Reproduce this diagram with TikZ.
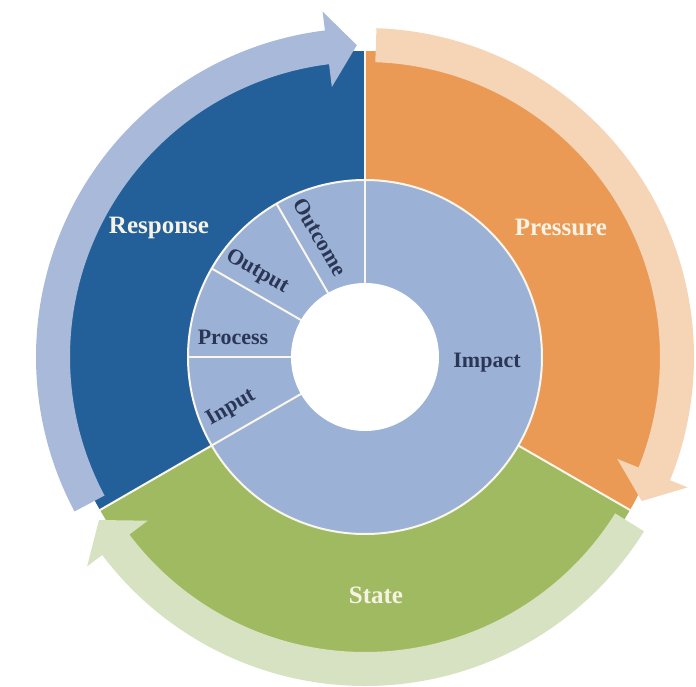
\documentclass[tikz,border=0pt]{standalone}
\usepackage{fontspec}
\setmainfont{Liberation Serif}

\definecolor{respblue}{HTML}{23609A}
\definecolor{presorange}{HTML}{EB9A56}
\definecolor{stategreen}{HTML}{A0BA62}
\definecolor{ringblue}{HTML}{9BB2D6}
\definecolor{bandblue}{HTML}{A9B9DA}
\definecolor{bandorange}{HTML}{F6D5B6}
\definecolor{bandgreen}{HTML}{D7E2C2}
\definecolor{labelcream}{HTML}{F6F3E4}
\definecolor{labelnavy}{HTML}{2B3656}
\definecolor{divider}{HTML}{FBF6EA}

\tikzset{
  outerlabel/.style={text=labelcream, font=\fontsize{25}{28}\selectfont\bfseries},
  innerlabel/.style={text=labelnavy, font=\fontsize{22}{25}\selectfont\bfseries},
  cut/.style={divider, line width=2pt},
}

\begin{document}
\begin{tikzpicture}[x=1pt, y=1pt]
  \useasboundingbox (-365,-329) rectangle (331,357);
  \coordinate (c) at (0,0);

  % three big sectors
  \foreach \a/\b/\col in {90/210/respblue, -30/90/presorange, -150/-30/stategreen} {
    \fill[\col] (c) -- (\a:306) arc[start angle=\a, end angle=\b, radius=306] -- cycle;
  }
  \foreach \a in {90,-30,210} {
    \draw[cut] (c) -- (\a:307);
  }

  % light cycle arrows round the outside
  \foreach \t/\e/\col in {208/97/bandblue, 88/-22/bandorange, -32/-143/bandgreen} {
    \fill[\col] (\t:295) arc[start angle=\t, end angle=\e, radius=295]
      -- (\e:272) -- ({\e-5.5}:312) -- (\e:348) -- (\e:329)
      arc[start angle=\e, end angle=\t, radius=329] -- cycle;
  }

  % inner ring
  \fill[ringblue] (c) circle(177);
  \foreach \a in {90,120,150,180,210} {
    \draw[cut] (c) -- (\a:177);
  }
  \draw[cut] (c) circle(177);
  \fill[white] (c) circle(74);

  \node[outerlabel] (response) at (-206,129) {Response};
  \node[outerlabel] (pressure) at (196,130) {Pressure};
  \node[outerlabel] (state) at (11,-238) {State};

  \node[innerlabel] (impact) at (122,-6) {Impact};
  \node[innerlabel] (process) at (-132,20) {Process};
  \node[innerlabel, rotate=30] (input) at (-134,-51) {Input};
  \node[innerlabel, rotate=-30] (output) at (-108,85) {Output};
  \node[innerlabel, rotate=-60] (outcome) at (-45,120) {Outcome};
\end{tikzpicture}
\end{document}
